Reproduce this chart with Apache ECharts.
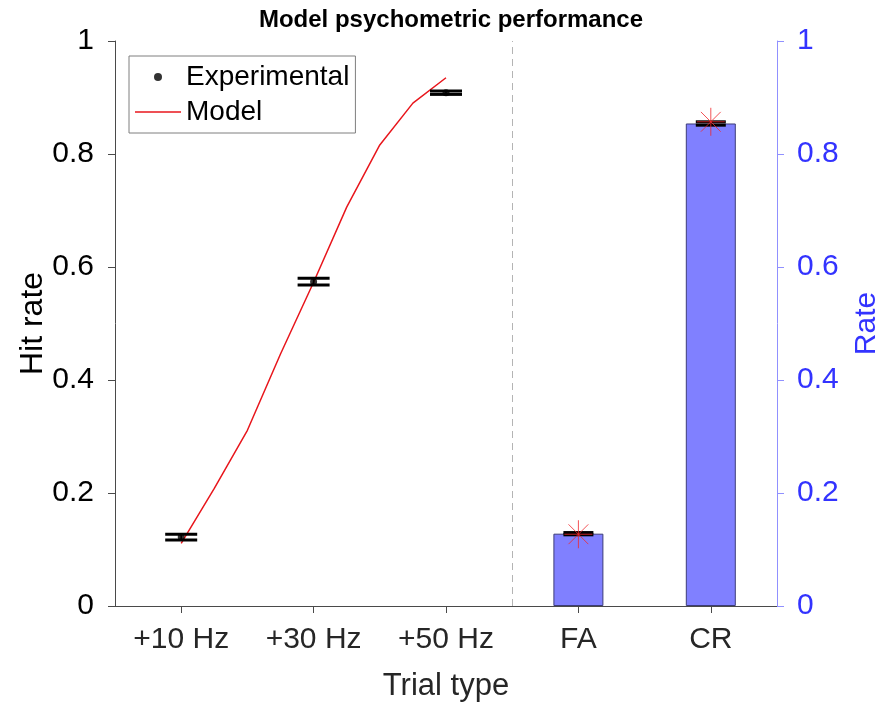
<!DOCTYPE html>
<html>
<head>
<meta charset="utf-8">
<script src="https://cdn.jsdelivr.net/npm/echarts@6/dist/echarts.min.js"></script>
<style>
  html, body { margin: 0; padding: 0; background: #ffffff; }
  #chart { width: 884px; height: 704px; }
</style>
</head>
<body>
<div id="chart"></div>
<script>
// Trial categories along the x axis
const categories = ['+10 Hz', '+30 Hz', '+50 Hz', 'FA', 'CR'];

// Experimental hit rates for the three stimulus amplitudes (Hz) with error
const expHz = [10, 30, 50];
const expHit = [0.122, 0.574, 0.9085];
const expHitErr = [0.005, 0.006, 0.003];

// Model psychometric curve
const modelHz = [10, 15, 20, 25, 30, 35, 40, 45, 50];
const modelHit = [0.111, 0.208, 0.311, 0.446, 0.573, 0.706, 0.816, 0.890, 0.935];

// False alarm / correct rejection rates (right axis)
const rateCats = ['FA', 'CR'];
const expRate = [0.128, 0.854];
const expRateErr = [0.002, 0.003];
const modelRate = [0.127, 0.857];

const yTicks = [0, 0.2, 0.4, 0.6, 0.8, 1];

const FONT = "'Liberation Sans', Arial, Helvetica, sans-serif";
const AXIS_DARK = '#262626';
const AXIS_LINE = '#4a4a4a';
const BLUE = '#3333ff';

// Map a stimulus amplitude onto the category index scale (+10 -> 0, +30 -> 1, +50 -> 2)
const hzToPos = hz => (hz - 10) / 20;
const catToPos = c => categories.indexOf(c);

const lineData = modelHz.map((hz, i) => [hzToPos(hz), modelHit[i]]);
const expData = expHz.map((hz, i) => [hzToPos(hz), expHit[i]]);
const expErrData = expHz.map((hz, i) => [hzToPos(hz), expHit[i], expHit[i] - expHitErr[i], expHit[i] + expHitErr[i]]);
const barData = categories.map(c => {
  const k = rateCats.indexOf(c);
  return k < 0 ? null : expRate[k];
});
const rateErrData = rateCats.map((c, i) => [catToPos(c), expRate[i], expRate[i] - expRateErr[i], expRate[i] + expRateErr[i]]);
const modelRateData = rateCats.map((c, i) => [catToPos(c), modelRate[i]]);

// Error bar drawn as two thick caps joined by a short stem
function errorBarRenderer(capHalf) {
  return function (params, api) {
    const x = api.value(0);
    const lo = api.coord([x, api.value(2)]);
    const hi = api.coord([x, api.value(3)]);
    const style = { stroke: '#000', lineWidth: 3 };
    return {
      type: 'group',
      children: [
        { type: 'line', shape: { x1: lo[0] - capHalf, y1: lo[1], x2: lo[0] + capHalf, y2: lo[1] }, style },
        { type: 'line', shape: { x1: hi[0] - capHalf, y1: hi[1], x2: hi[0] + capHalf, y2: hi[1] }, style },
        { type: 'line', shape: { x1: lo[0], y1: lo[1], x2: hi[0], y2: hi[1] }, style: { stroke: '#000', lineWidth: 1.5 } }
      ]
    };
  };
}

const asterisk = 'path://M0,-1L0,1M-1,0L1,0M-0.707,-0.707L0.707,0.707M-0.707,0.707L0.707,-0.707';

const chart = echarts.init(document.getElementById('chart'), null, { renderer: 'canvas' });

chart.setOption({
  backgroundColor: '#ffffff',
  animation: false,
  textStyle: { fontFamily: FONT },
  title: {
    text: 'Model psychometric performance',
    left: 446,
    textAlign: 'center',
    top: 3,
    textStyle: { fontFamily: FONT, fontSize: 24, fontWeight: 'bold', color: '#000' }
  },
  legend: {
    data: [
      { name: 'Experimental', icon: 'circle' },
      { name: 'Model', icon: 'path://M0,0L46,0L46,1.5L0,1.5Z' }
    ],
    orient: 'vertical',
    left: 129,
    top: 56,
    padding: [7, 6, 7, 6],
    itemWidth: 46,
    itemHeight: 8,
    itemGap: 7,
    symbolKeepAspect: true,
    borderColor: '#7f7f7f',
    borderWidth: 1,
    backgroundColor: '#ffffff',
    selectedMode: false,
    textStyle: { fontFamily: FONT, fontSize: 28, color: '#000', lineHeight: 28 }
  },
  grid: { left: 115, right: 107, top: 41, bottom: 98, containLabel: false, outerBoundsMode: 'none' },
  xAxis: [
    {
      type: 'category',
      data: categories,
      boundaryGap: true,
      name: 'Trial type',
      nameLocation: 'middle',
      nameGap: 65,
      nameMoveOverlap: false,
      nameTextStyle: { fontFamily: FONT, fontSize: 31, color: AXIS_DARK },
      axisLine: { show: true, onZero: false, lineStyle: { color: AXIS_LINE, width: 1 } },
      axisTick: { show: true, alignWithLabel: true, inside: false, length: 7, lineStyle: { color: AXIS_LINE } },
      axisLabel: { fontFamily: FONT, fontSize: 30, color: AXIS_DARK, margin: 19 },
      splitLine: { show: false }
    },
    {
      type: 'value',
      min: -0.5,
      max: 4.5,
      show: false,
      axisLine: { onZero: false },
      splitLine: { show: false }
    }
  ],
  yAxis: [
    {
      type: 'value',
      min: 0,
      max: 1,
      interval: 0.2,
      position: 'left',
      name: 'Hit rate',
      nameLocation: 'middle',
      nameGap: 66,
      nameMoveOverlap: false,
      nameTextStyle: { fontFamily: FONT, fontSize: 32, color: '#000' },
      axisLine: { show: true, onZero: false, lineStyle: { color: AXIS_LINE, width: 1 } },
      axisTick: { show: true, inside: false, length: 7, lineStyle: { color: AXIS_LINE } },
      axisLabel: { fontFamily: FONT, fontSize: 30, color: '#000', margin: 21,
        formatter: v => String(yTicks.find(t => Math.abs(t - v) < 1e-9) ?? v) },
      splitLine: { show: false }
    },
    {
      type: 'value',
      min: 0,
      max: 1,
      interval: 0.2,
      position: 'right',
      name: 'Rate',
      nameLocation: 'middle',
      nameGap: 75,
      nameRotate: 90,
      nameMoveOverlap: false,
      nameTextStyle: { fontFamily: FONT, fontSize: 30, color: BLUE },
      axisLine: { show: true, onZero: false, lineStyle: { color: '#9090ff', width: 1 } },
      axisTick: { show: true, inside: false, length: 7, lineStyle: { color: '#9090ff' } },
      axisLabel: { fontFamily: FONT, fontSize: 30, color: BLUE, margin: 20 },
      splitLine: { show: false }
    }
  ],
  series: [
    {
      name: 'FA/CR rate',
      type: 'bar',
      xAxisIndex: 0,
      yAxisIndex: 1,
      data: barData,
      barWidth: 50,
      itemStyle: { color: '#8080ff', borderColor: '#3c3c78', borderWidth: 1 },
      z: 2
    },
    {
      name: 'Model',
      type: 'line',
      xAxisIndex: 1,
      yAxisIndex: 0,
      data: lineData,
      showSymbol: false,
      symbol: 'none',
      lineStyle: { color: '#e8161c', width: 1.5 },
      itemStyle: { color: '#e8161c' },
      z: 3,
      markLine: {
        silent: true,
        symbol: ['none', 'none'],
        label: { show: false },
        lineStyle: { color: '#b4b4b4', type: [7, 5], width: 1 },
        data: [{ xAxis: 2.5 }]
      }
    },
    {
      name: 'Experimental error',
      type: 'custom',
      xAxisIndex: 1,
      yAxisIndex: 0,
      data: expErrData,
      renderItem: errorBarRenderer(16),
      z: 4
    },
    {
      name: 'Experimental',
      type: 'scatter',
      xAxisIndex: 1,
      yAxisIndex: 0,
      data: expData,
      symbol: 'circle',
      symbolSize: 7,
      itemStyle: { color: '#000' },
      z: 5
    },
    {
      name: 'Rate error',
      type: 'custom',
      xAxisIndex: 1,
      yAxisIndex: 1,
      data: rateErrData,
      renderItem: errorBarRenderer(15),
      z: 4
    },
    {
      name: 'Model rate',
      type: 'scatter',
      xAxisIndex: 1,
      yAxisIndex: 1,
      data: modelRateData,
      symbol: asterisk,
      symbolSize: 28,
      itemStyle: { color: 'rgba(0,0,0,0)', borderColor: '#f0282d', borderWidth: 1 },
      z: 6
    }
  ]
});
</script>
</body>
</html>
